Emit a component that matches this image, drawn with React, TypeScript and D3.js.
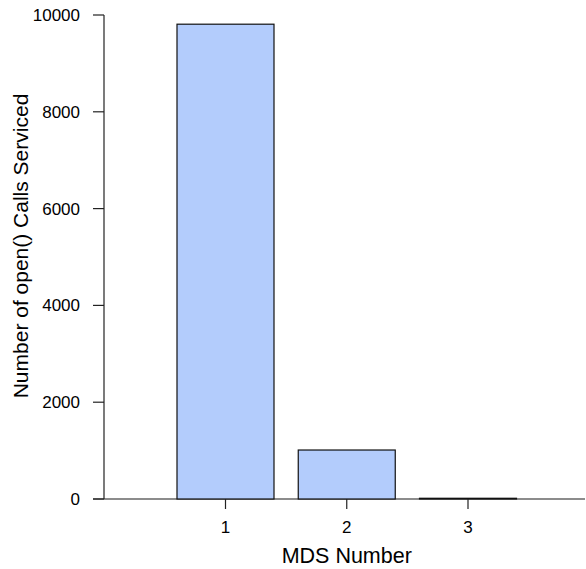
import React, { useEffect, useRef } from 'react';
import * as d3 from 'd3';

const categories = ['1', '2', '3'];
const calls = [9810, 1012, 15];
const yTicks = [0, 2000, 4000, 6000, 8000, 10000];

const App = () => {
  const svgRef = useRef<SVGSVGElement>(null);

  useEffect(() => {
    const svg = d3.select(svgRef.current);
    svg.selectAll('*').remove();

    const width = 586;
    const height = 569;
    const font = 'Liberation Sans, Arial, sans-serif';

    const x = d3.scaleBand()
      .domain(categories)
      .range([177, 516.5])
      .paddingInner(0.2)
      .paddingOuter(0);

    const y = d3.scaleLinear()
      .domain([0, 10000])
      .range([499, 15]);

    const axisX = 104;

    // baseline
    svg.append('line')
      .attr('x1', 93).attr('x2', 585)
      .attr('y1', y(0)).attr('y2', y(0))
      .attr('stroke', '#666').attr('stroke-width', 1.3);

    // bars
    svg.selectAll('.bar')
      .data(categories)
      .enter().append('rect')
      .attr('class', 'bar')
      .attr('x', d => x(d)!)
      .attr('width', x.bandwidth())
      .attr('y', (d, i) => y(calls[i]))
      .attr('height', (d, i) => y(0) - y(calls[i]))
      .attr('fill', '#b3ccfc')
      .attr('stroke', '#111')
      .attr('stroke-width', 1.2);

    // y axis
    const gy = svg.append('g');
    gy.append('line')
      .attr('x1', axisX).attr('x2', axisX)
      .attr('y1', y(10000)).attr('y2', y(0))
      .attr('stroke', '#222').attr('stroke-width', 1.2);
    gy.selectAll('.yt')
      .data(yTicks)
      .enter().append('line')
      .attr('x1', axisX - 11).attr('x2', axisX)
      .attr('y1', d => y(d)).attr('y2', d => y(d))
      .attr('stroke', '#222').attr('stroke-width', 1.2);
    gy.selectAll('.yl')
      .data(yTicks)
      .enter().append('text')
      .attr('x', 80)
      .attr('y', d => y(d))
      .attr('dy', '0.35em')
      .attr('text-anchor', 'end')
      .style('font-family', font)
      .style('font-size', '17px')
      .text(d => String(d));

    // x ticks
    const gx = svg.append('g');
    gx.selectAll('.xt')
      .data(categories)
      .enter().append('line')
      .attr('x1', d => x(d)! + x.bandwidth() / 2)
      .attr('x2', d => x(d)! + x.bandwidth() / 2)
      .attr('y1', y(0)).attr('y2', y(0) + 10)
      .attr('stroke', '#222').attr('stroke-width', 1.2);
    gx.selectAll('.xl')
      .data(categories)
      .enter().append('text')
      .attr('x', d => x(d)! + x.bandwidth() / 2)
      .attr('y', 533)
      .attr('text-anchor', 'middle')
      .style('font-family', font)
      .style('font-size', '17px')
      .text(d => d);

    svg.append('text')
      .attr('x', x('2')! + x.bandwidth() / 2)
      .attr('y', 563)
      .attr('text-anchor', 'middle')
      .style('font-family', font)
      .style('font-size', '21.5px')
      .text('MDS Number');

    svg.append('text')
      .attr('transform', `translate(27.5, 246) rotate(-90)`)
      .attr('text-anchor', 'middle')
      .style('font-family', font)
      .style('font-size', '21px')
      .text('Number of open() Calls Serviced');

    svg.attr('width', width).attr('height', height);
  }, []);

  return <svg ref={svgRef} style={{ position: 'absolute', left: 0, top: 0 }}></svg>;
};

export default App;
